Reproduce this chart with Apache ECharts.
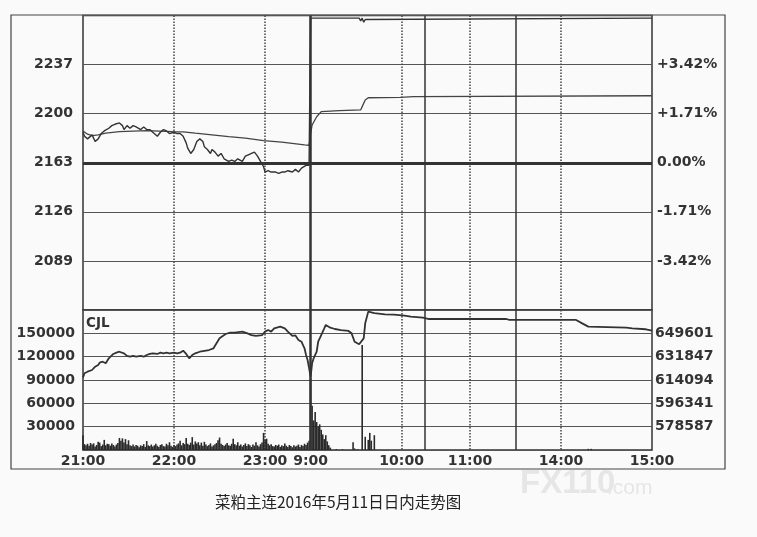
<!DOCTYPE html>
<html><head><meta charset="utf-8">
<script src="https://cdn.jsdelivr.net/npm/echarts@6/dist/echarts.min.js"></script>
<style>html,body{margin:0;padding:0;background:#fafafa}#c{width:757px;height:537px}</style>
</head><body><div id="c"></div>
<script>
// ---------- data ----------
const sessions = [['21:00','23:30'],['9:00','10:15'],['10:30','11:30'],['13:30','15:00']];
const timeLabels = ['21:00','22:00','23:00','9:00','10:00','11:00','14:00','15:00'];
const dottedTimes = ['22:00','23:00','10:00','11:00','14:00'];
const breakTimes = ['9:00','10:30','13:30'];
const prevClose = 2163;
const priceTicks = ['2089','2126','2163','2200','2237'];
const pctTicks = ['-3.42%','-1.71%','0.00%','+1.71%','+3.42%'];
const volTicks = ['30000','60000','90000','120000','150000'];
const oiTicks = ['578587','596341','614094','631847','649601'];
const titleText = '菜粕主连2016年5月11日日内走势图';

const priceTimes = ['21:00','21:01','21:03','21:06','21:08','21:10','21:12','21:14','21:17','21:19','21:21','21:24','21:26','21:27','21:29','21:31','21:33','21:35','21:38','21:40','21:42','21:44','21:46','21:49','21:51','21:53','21:55','21:57','22:00','22:02','22:04','22:06','22:08','22:09','22:11','22:13','22:15','22:17','22:19','22:20','22:22','22:24','22:25','22:27','22:29','22:31','22:33','22:36','22:38','22:40','22:42','22:45','22:47','22:49','22:51','22:53','22:55','22:57','22:59','23:00','23:02','23:04','23:07','23:09','23:11','23:13','23:15','23:18','23:20','23:22','23:24','23:25','23:27','23:29','9:00','9:32','9:33','9:34','9:35','9:36','9:37','15:00'];
const priceValues = [2186,2183,2181,2184,2179,2181,2185,2187,2189,2191,2192,2193,2191,2188,2191,2189,2191,2190,2188,2190,2188,2188,2186,2183,2186,2188,2187,2185,2186,2185,2185,2183,2178,2174,2170,2173,2179,2181,2179,2175,2173,2170,2173,2171,2168,2170,2166,2164,2165,2164,2166,2164,2168,2169,2170,2171,2168,2164,2160,2156,2157,2156,2156,2155,2156,2156,2157,2156,2158,2156,2159,2158,2161,2161,2272,2272,2270,2272,2269,2271,2272,2272];

const avgTimes = ['21:00','21:03','21:06','21:10','21:15','21:24','21:42','21:59','22:06','22:14','22:36','22:47','22:59','23:11','23:26','23:29','9:00','9:01','9:04','9:07','9:19','9:33','9:34','9:36','9:38','9:59','10:08','10:09','15:00'];
const avgValues = [2187,2184.5,2183.5,2184,2185.3,2186.5,2187.2,2186.5,2186.3,2185.3,2182.7,2181.5,2179.7,2178.5,2176.5,2176.2,2185,2191.5,2197.7,2201.5,2202.3,2202.8,2205.3,2210.3,2212,2212.3,2212.8,2213.5,2213.5];

const oiTimes = ['21:00','21:01','21:03','21:06','21:08','21:10','21:11','21:13','21:15','21:17','21:20','21:22','21:24','21:27','21:29','21:31','21:33','21:35','21:38','21:40','21:42','21:44','21:46','21:49','21:51','21:53','21:55','21:57','22:00','22:02','22:04','22:06','22:08','22:10','22:12','22:14','22:17','22:23','22:26','22:28','22:30','22:34','22:37','22:40','22:45','22:48','22:51','22:54','22:58','23:00','23:02','23:04','23:06','23:10','23:13','23:15','23:18','23:20','23:22','23:24','23:25','23:26','23:27','23:28','23:29','9:00','9:01','9:02','9:04','9:05','9:07','9:09','9:10','9:13','9:16','9:20','9:25','9:27','9:29','9:32','9:33','9:35','9:36','9:38','9:42','9:49','9:55','10:02','10:06','10:14','10:33','11:24','11:26','14:10','14:14','14:18','14:43','14:47','14:56','15:00'];
const oiValues = [616000,619200,620400,621700,624200,625500,627300,628000,626800,630600,633900,634900,635600,634400,632400,631800,632400,631800,632400,631800,633100,633900,634400,633900,634900,634400,634900,634400,634900,634400,634900,636400,633900,630600,633100,634400,635600,636900,638200,642000,645800,649100,650100,650100,650900,649700,648300,647600,648300,650900,652100,650900,653400,654700,653400,650900,647600,648000,644500,643200,640700,638200,633100,629300,623200,616400,626800,630600,635600,643200,648300,653400,656000,653900,652900,652100,651400,649600,643200,641300,640700,645800,657200,666100,664900,664100,663800,663000,662300,661500,660500,660500,659800,659800,657200,654700,653900,653400,652700,651600];

// night session volume, one value per minute from 21:00 to 23:29
const nightVol = [19000,7500,6000,8000,5500,9000,7000,8500,4500,6500,10500,9500,5000,7000,13000,6000,8000,7500,5500,8500,6500,4500,7000,9000,15500,12000,15000,9500,14000,7500,12500,6000,5000,7000,4500,6500,5500,3500,6000,5000,7500,4000,11500,6000,5000,7000,4500,6000,8000,5500,4000,6500,7500,5000,4500,8000,6000,10000,5500,4000,6500,5000,7000,8500,12000,6000,9000,7500,15500,8000,6500,9500,16500,7000,11000,8500,10000,6000,9500,5500,10500,7000,5000,6500,8500,4500,6000,7500,9000,12500,16000,8000,6500,5000,7000,9000,6000,5500,8000,14500,7500,6000,10000,5500,7000,4500,6500,8500,5000,7500,6000,4000,7000,5500,10000,6000,4500,7500,9500,22000,13000,14500,8000,6000,7500,5000,4500,6500,5500,7000,4000,6000,5000,8500,5500,4000,6500,5000,3500,6000,4500,5500,7000,4000,6500,5000,8000,6500,9500,12000];
const dayVolTimes = ['9:00','9:01','9:02','9:03','9:04','9:05','9:06','9:07','9:08','9:09','9:10','9:11','9:12','9:13','9:17','9:21','9:28','9:29','9:31','9:34','9:36','9:38','9:39','9:40','9:42','14:18','14:20'];
const dayVolValues = [92000,57000,38000,49000,36000,30000,33000,26000,20000,14000,19000,11000,6000,3000,1000,1000,10000,2000,1000,135000,17000,13000,22000,12000,19000,1500,1500];

// ---------- axis domain: trading minutes ----------
function toMin(s){const p=s.split(':');return (+p[0])*60+(+p[1]);}
function fmt(m){const h=Math.floor(m/60)%24, mm=m%60;return h+':'+(mm<10?'0':'')+mm;}
const cats=[];
sessions.forEach(s=>{for(let m=toMin(s[0]);m<toMin(s[1]);m++)cats.push(fmt(m));});
cats.push(sessions[sessions.length-1][1]);

const pair=(t,v)=>t.map((x,i)=>[x,v[i]]);
const volData = nightVol.map((v,i)=>[cats[i],v]).concat(pair(dayVolTimes,dayVolValues));

const INK='#333';
const FONT='DejaVu Sans';
const lblStyle={color:INK,fontFamily:FONT,fontWeight:'bold',fontSize:14};
const dottedIdx=new Set(dottedTimes.map(t=>cats.indexOf(t)));
const labelIdx=new Set(timeLabels.map(t=>cats.indexOf(t)));

function xAx(grid,showLabel){
  return {type:'category',gridIndex:grid,data:cats,boundaryGap:false,
    axisLine:{show:false},axisTick:{show:false},
    axisLabel:{show:showLabel,interval:(i)=>labelIdx.has(i),margin:4,...lblStyle},
    splitLine:{show:true,interval:(i)=>dottedIdx.has(i),lineStyle:{type:[1.5,1.5],width:1.5,color:'#444'}}};
}
function yAx(grid,pos,min,max,interval,labels,margin,split){
  return {type:'value',gridIndex:grid,position:pos,min:min,max:max,interval:interval,
    axisLine:{show:false},axisTick:{show:false},
    axisLabel:{margin:margin,...lblStyle,formatter:(v,i)=>labels[i-1]||''},
    splitLine:{show:split,lineStyle:{color:'#555',width:1.2}}};
}
const breakLines=(w9)=>breakTimes.map(t=>({xAxis:t,lineStyle:{width:t==='9:00'?w9:1.5}}));

const chart=echarts.init(document.getElementById('c'),null,{renderer:'canvas'});
chart.setOption({
  animation:false,
  backgroundColor:'#fafafa',
  title:[
    {text:titleText,left:215,top:494,padding:0,textStyle:{fontFamily:'Noto Sans CJK SC',fontWeight:'normal',fontSize:15.5,color:'#222'}},
    {text:'CJL',left:86,top:316,padding:0,textStyle:{fontFamily:FONT,fontWeight:'bold',fontSize:13.5,color:INK}}
  ],
  graphic:[
    {type:'rect',shape:{x:11,y:15,width:714,height:454},style:{fill:'none',stroke:'#444',lineWidth:1.2},z:-1,silent:true},
    {type:'text',left:520,top:467,style:{text:'FX110',font:'bold 33px "Liberation Sans"',fill:'#e6e6e6'},silent:true},
    {type:'text',left:607,top:478,style:{text:'.com',font:'21px "Liberation Sans"',fill:'#e6e6e6'},silent:true}
  ],
  grid:[
    {left:83,right:105,top:15.5,height:294.5,show:true,borderColor:INK,borderWidth:1.5,backgroundColor:'transparent'},
    {left:83,right:105,top:310,height:140,show:true,borderColor:INK,borderWidth:1.5,backgroundColor:'transparent'}
  ],
  xAxis:[xAx(0,false),xAx(1,true)],
  yAxis:[
    yAx(0,'left',2052,2274,37,priceTicks,10,true),
    yAx(0,'right',2052,2274,37,pctTicks,5,false),
    yAx(1,'left',0,180000,30000,volTicks,8,true),
    yAx(1,'right',560833.5,667354.5,17753.5,oiTicks,3,false)
  ],
  series:[
    {type:'line',name:'均价',xAxisIndex:0,yAxisIndex:0,data:pair(avgTimes,avgValues),showSymbol:false,
      lineStyle:{color:'#444',width:1.3},z:3},
    {type:'line',name:'价格',xAxisIndex:0,yAxisIndex:0,data:pair(priceTimes,priceValues),showSymbol:false,
      lineStyle:{color:INK,width:1.4},z:4,
      markLine:{silent:true,symbol:'none',label:{show:false},lineStyle:{color:INK,type:'solid'},
        data:[{yAxis:prevClose,lineStyle:{width:3}}].concat(breakLines(2.5))}},
    {type:'bar',name:'成交量',xAxisIndex:1,yAxisIndex:2,data:volData,barWidth:1.6,
      itemStyle:{color:'#2a2a2a'},z:3},
    {type:'line',name:'持仓量',xAxisIndex:1,yAxisIndex:3,data:pair(oiTimes,oiValues),showSymbol:false,
      lineStyle:{color:INK,width:1.8},z:4,
      markLine:{silent:true,symbol:'none',label:{show:false},lineStyle:{color:INK,type:'solid'},
        data:breakLines(2.5)}}
  ]
});
</script></body></html>
